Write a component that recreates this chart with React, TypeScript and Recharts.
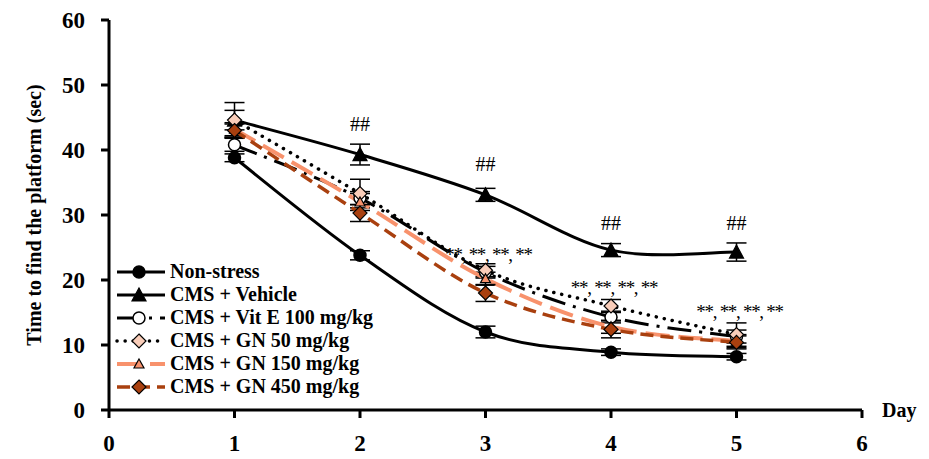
import React from 'react'
import {
  LineChart,
  Line,
  XAxis,
  YAxis,
  ErrorBar,
  Legend,
  ReferenceDot,
} from 'recharts'

const days = [1, 2, 3, 4, 5]
const nonStress = [38.8, 23.8, 12.0, 8.9, 8.2]
const vehicle = [44.6, 39.3, 33.1, 24.6, 24.3]
const vitE = [40.8, 32.6, 21.2, 14.3, 11.3]
const gn50 = [44.6, 33.3, 21.5, 16.0, 11.6]
const gn150 = [43.2, 32.0, 20.2, 12.8, 10.6]
const gn450 = [43.0, 30.3, 18.0, 12.4, 10.4]

const nonStressErr = [0.6, 0.7, 0.9, 0.5, 0.5]
const vehicleErr = [2.7, 1.6, 1.0, 1.0, 1.4]
const vitEErr = [1.0, 1.0, 0.9, 0.9, 1.0]
const gn50Err = [1.5, 2.2, 1.0, 1.0, 1.8]
const gn150Err = [1.0, 1.3, 1.0, 1.0, 1.0]
const gn450Err = [1.0, 1.3, 1.3, 1.3, 1.0]

const xTicks = [0, 1, 2, 3, 4, 5, 6]
const yTicks = [0, 10, 20, 30, 40, 50, 60]

// significance marks: "##" vs non-stress, "**" vs vehicle
const hashDays = [2, 3, 4, 5]
const hashY = [42.9, 36.8, 27.7, 27.7]
const starDays = [3, 4, 5]
const starY = [23.0, 17.8, 14.2]

const SERIF = '"Liberation Serif", "Times New Roman", serif'
const SALMON = '#F8926C'
const BROWN = '#A9400F'
const PINK = '#F9CDB9'

const data = days.map((d, i) => ({
  day: d,
  nonStress: nonStress[i],
  vehicle: vehicle[i],
  vitE: vitE[i],
  gn50: gn50[i],
  gn150: gn150[i],
  gn450: gn450[i],
  nonStressErr: nonStressErr[i],
  vehicleErr: vehicleErr[i],
  vitEErr: vitEErr[i],
  gn50Err: gn50Err[i],
  gn150Err: gn150Err[i],
  gn450Err: gn450Err[i],
}))

// Excel-like smoothed line (catmull-rom style bezier)
function excelCurve(context: any) {
  let pts: number[][] = []
  return {
    areaStart() {},
    areaEnd() {},
    lineStart() {
      pts = []
    },
    point(x: number, y: number) {
      pts.push([+x, +y])
    },
    lineEnd() {
      if (!pts.length) return
      context.moveTo(pts[0][0], pts[0][1])
      for (let i = 0; i < pts.length - 1; i++) {
        const p0 = pts[i - 1] || pts[i]
        const p1 = pts[i]
        const p2 = pts[i + 1]
        const p3 = pts[i + 2] || pts[i + 1]
        context.bezierCurveTo(
          p1[0] + (p2[0] - p0[0]) / 6,
          p1[1] + (p2[1] - p0[1]) / 6,
          p2[0] - (p3[0] - p1[0]) / 6,
          p2[1] - (p3[1] - p1[1]) / 6,
          p2[0],
          p2[1]
        )
      }
    },
  }
}

type Marker = 'circle' | 'triangle' | 'diamond' | 'smalltri'

function markerShape(kind: Marker, cx: number, cy: number, fill: string, key?: any) {
  if (kind === 'circle') {
    return <circle key={key} cx={cx} cy={cy} r={6} fill={fill} stroke="#000" strokeWidth={1.5} />
  }
  if (kind === 'triangle' || kind === 'smalltri') {
    const s = kind === 'triangle' ? 7 : 5
    return (
      <path
        key={key}
        d={`M${cx},${cy - s}L${cx + s},${cy + s - 1}L${cx - s},${cy + s - 1}Z`}
        fill={fill}
        stroke="#000"
        strokeWidth={1.2}
      />
    )
  }
  return (
    <path
      key={key}
      d={`M${cx},${cy - 7}L${cx + 7},${cy}L${cx},${cy + 7}L${cx - 7},${cy}Z`}
      fill={fill}
      stroke="#000"
      strokeWidth={1.2}
    />
  )
}

const series = [
  { key: 'nonStress', name: 'Non-stress', color: '#000', width: 3, dash: undefined, cap: 'butt', marker: 'circle' as Marker, fill: '#000' },
  { key: 'vehicle', name: 'CMS + Vehicle', color: '#000', width: 3, dash: undefined, cap: 'butt', marker: 'triangle' as Marker, fill: '#000' },
  { key: 'vitE', name: 'CMS + Vit E 100 mg/kg', color: '#000', width: 3, dash: '24 8 3 8', cap: 'butt', marker: 'circle' as Marker, fill: '#fff' },
  { key: 'gn50', name: 'CMS + GN 50 mg/kg', color: '#000', width: 3.5, dash: '0.1 8', cap: 'round', marker: 'diamond' as Marker, fill: PINK },
  { key: 'gn150', name: 'CMS + GN 150 mg/kg', color: SALMON, width: 4, dash: '24 9', cap: 'butt', marker: 'smalltri' as Marker, fill: SALMON },
  { key: 'gn450', name: 'CMS + GN 450 mg/kg', color: BROWN, width: 3.5, dash: '13 7', cap: 'butt', marker: 'diamond' as Marker, fill: BROWN },
]

function LegendBox() {
  return (
    <svg width={280} height={150} style={{ display: 'block', overflow: 'visible' }}>
      {series.map((s, i) => {
        const y = 12 + i * 23
        return (
          <g key={s.key}>
            <line
              x1={2}
              x2={50}
              y1={y}
              y2={y}
              stroke={s.color}
              strokeWidth={s.width}
              strokeDasharray={s.dash}
              strokeLinecap={s.cap as any}
            />
            {markerShape(s.marker, 24, y, s.fill)}
            <text x={55} y={y + 6} fontFamily={SERIF} fontWeight="bold" fontSize={20} fill="#000">
              {s.name}
            </text>
          </g>
        )
      })}
    </svg>
  )
}

export default function App() {
  return (
    <div style={{ position: 'absolute', left: 0, top: 0, width: 929, height: 459, background: '#fff' }}>
      <LineChart width={929} height={459} data={data} margin={{ top: 20, right: 67, left: 49, bottom: 0 }}>
        <XAxis
          dataKey="day"
          type="number"
          domain={[0, 6]}
          ticks={xTicks}
          height={49}
          tickSize={8}
          tickMargin={17}
          tick={{ fill: '#000', fontSize: 23, fontWeight: 'bold', fontFamily: SERIF }}
          axisLine={{ stroke: '#000', strokeWidth: 3 }}
          tickLine={{ stroke: '#000', strokeWidth: 3 }}
          label={{
            content: (p: any) => {
              const vb = p.viewBox
              return (
                <text x={vb.x + vb.width + 20} y={vb.y + 7} fontFamily={SERIF} fontWeight="bold" fontSize={20} fill="#000">
                  Day
                </text>
              )
            },
          }}
        />
        <YAxis
          domain={[0, 60]}
          ticks={yTicks}
          width={60}
          tickSize={8}
          tickMargin={16}
          tick={{ fill: '#000', fontSize: 23, fontWeight: 'bold', fontFamily: SERIF }}
          axisLine={{ stroke: '#000', strokeWidth: 3 }}
          tickLine={{ stroke: '#000', strokeWidth: 3 }}
          label={{
            content: (p: any) => {
              const vb = p.viewBox
              const cx = 34
              const cy = vb.y + vb.height / 2
              return (
                <text
                  x={cx}
                  y={cy}
                  transform={`rotate(-90 ${cx} ${cy})`}
                  textAnchor="middle"
                  dominantBaseline="central"
                  fontFamily={SERIF}
                  fontWeight="bold"
                  fontSize={20}
                  fill="#000"
                >
                  Time to find the platform (sec)
                </text>
              )
            },
          }}
        />
        {series.map((s) => (
          <Line
            key={s.key}
            dataKey={s.key}
            name={s.name}
            type={excelCurve as any}
            stroke={s.color}
            strokeWidth={s.width}
            strokeDasharray={s.dash}
            strokeLinecap={s.cap as any}
            isAnimationActive={false}
            dot={(p: any) => markerShape(s.marker, p.cx, p.cy, s.fill, `${s.key}-${p.index}`)}
            activeDot={false}
          >
            <ErrorBar dataKey={`${s.key}Err`} width={10} stroke="#000" strokeWidth={1.5} direction="y" />
          </Line>
        ))}
        {hashDays.map((d, i) => (
          <ReferenceDot
            key={`h${d}`}
            x={d}
            y={hashY[i]}
            r={0}
            shape={(p: any) => (
              <text x={p.cx} y={p.cy} textAnchor="middle" fontFamily={SERIF} fontSize={20} fill="#000">
                ##
              </text>
            )}
          />
        ))}
        {starDays.map((d, i) => (
          <ReferenceDot
            key={`s${d}`}
            x={d}
            y={starY[i]}
            r={0}
            shape={(p: any) => (
              <text x={p.cx + 3} y={p.cy} textAnchor="middle" fontFamily={SERIF} fontSize={19} letterSpacing={-1.3} fill="#000">
                **, **, **, **
              </text>
            )}
          />
        ))}
        <Legend
          layout="vertical"
          align="center"
          verticalAlign="middle"
          content={() => <LegendBox />}
          wrapperStyle={{ left: 115, top: 260, width: 280, height: 150 }}
        />
      </LineChart>
    </div>
  )
}
